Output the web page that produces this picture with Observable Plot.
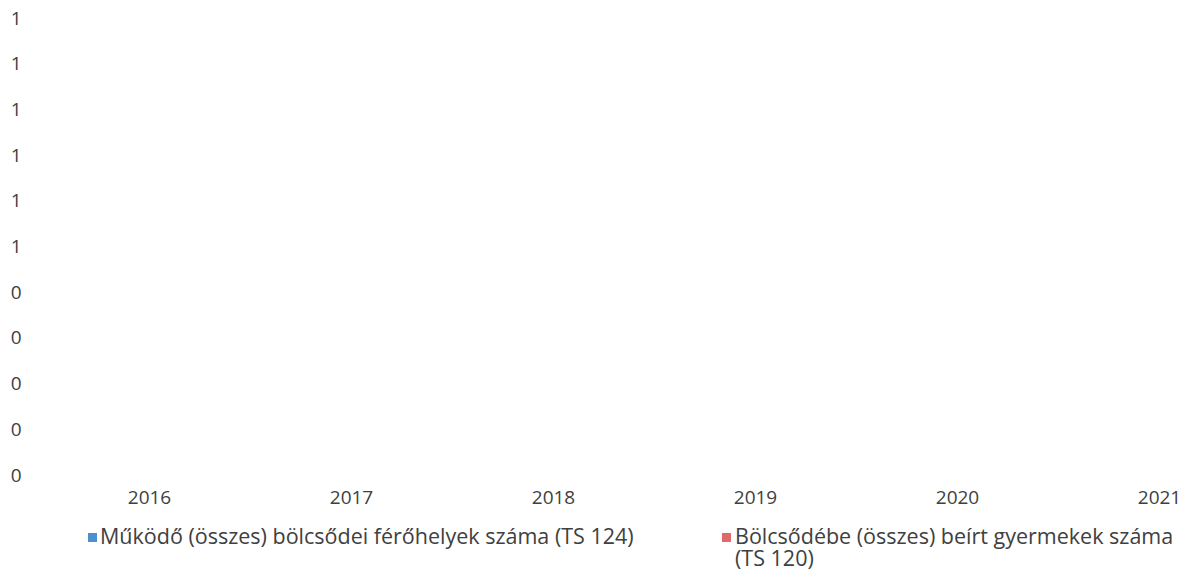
<!DOCTYPE html>
<html>
<head>
<meta charset="utf-8">
<script src="https://cdn.jsdelivr.net/npm/d3@7"></script>
<script src="https://cdn.jsdelivr.net/npm/@observablehq/plot@0.6"></script>
<style>
  body { margin: 0; background: #fff; font-family: "Open Sans", sans-serif; }
  #wrap { position: relative; width: 1189px; height: 571px; }
  .leg { position: absolute; font-size: 21.5px; color: #404040; line-height: 22px; }
  .sw { position: absolute; width: 9px; height: 9px; }
  svg text { font-size: 19px; }
</style>
</head>
<body>
<div id="wrap">
  <div id="chart"></div>
  <div class="sw" id="sw1" style="left:88px; top:533px;"></div>
  <div class="leg" id="lg1" style="left:100px; top:525px; width:610px;"></div>
  <div class="sw" id="sw2" style="left:722px; top:533px;"></div>
  <div class="leg" id="lg2" style="left:735px; top:525px; width:445px;"></div>
</div>
<script>
const years = ["2016", "2017", "2018", "2019", "2020", "2021"];
const seriesNames = [
  "Működő (összes) bölcsődei férőhelyek száma (TS 124)",
  "Bölcsődébe (összes) beírt gyermekek száma (TS 120)"
];
const seriesColors = ["#4e8fcf", "#e0696b"];
const placesValues = [0, 0, 0, 0, 0, 0];
const childrenValues = [0, 0, 0, 0, 0, 0];
const yTicks = [0, 0.1, 0.2, 0.3, 0.4, 0.5, 0.6, 0.7, 0.8, 0.9, 1.0];

const rows = [];
years.forEach((y, i) => {
  rows.push({year: y, series: seriesNames[0], value: placesValues[i]});
  rows.push({year: y, series: seriesNames[1], value: childrenValues[i]});
});

const chart = Plot.plot({
  width: 1189,
  height: 520,
  marginTop: 18,
  marginBottom: 45,
  marginLeft: 21,
  marginRight: 0,
  style: {fontFamily: "Open Sans, sans-serif", fontSize: "19px", color: "#404040", background: "#fff"},
  x: {type: "band", domain: years, range: [47, 1261], padding: 0},
  y: {domain: [0, 1]},
  color: {domain: seriesNames, range: seriesColors},
  marks: [
    Plot.barY(rows.filter(d => d.series === seriesNames[0]), {x: "year", y: "value", fill: seriesColors[0], insetLeft: 40, insetRight: 101}),
    Plot.barY(rows.filter(d => d.series === seriesNames[1]), {x: "year", y: "value", fill: seriesColors[1], insetLeft: 101, insetRight: 40}),
    Plot.axisY({ticks: yTicks, tickSize: 0, tickPadding: 0, tickFormat: d => String(Math.round(d)), label: null, fill: "#404040"}),
    Plot.axisX({tickSize: 0, tickPadding: 15, label: null, fill: "#404040"})
  ]
});
document.getElementById("chart").appendChild(chart);

document.getElementById("sw1").style.background = seriesColors[0];
document.getElementById("sw2").style.background = seriesColors[1];
document.getElementById("lg1").textContent = seriesNames[0];
document.getElementById("lg2").textContent = seriesNames[1];
</script>
</body>
</html>
